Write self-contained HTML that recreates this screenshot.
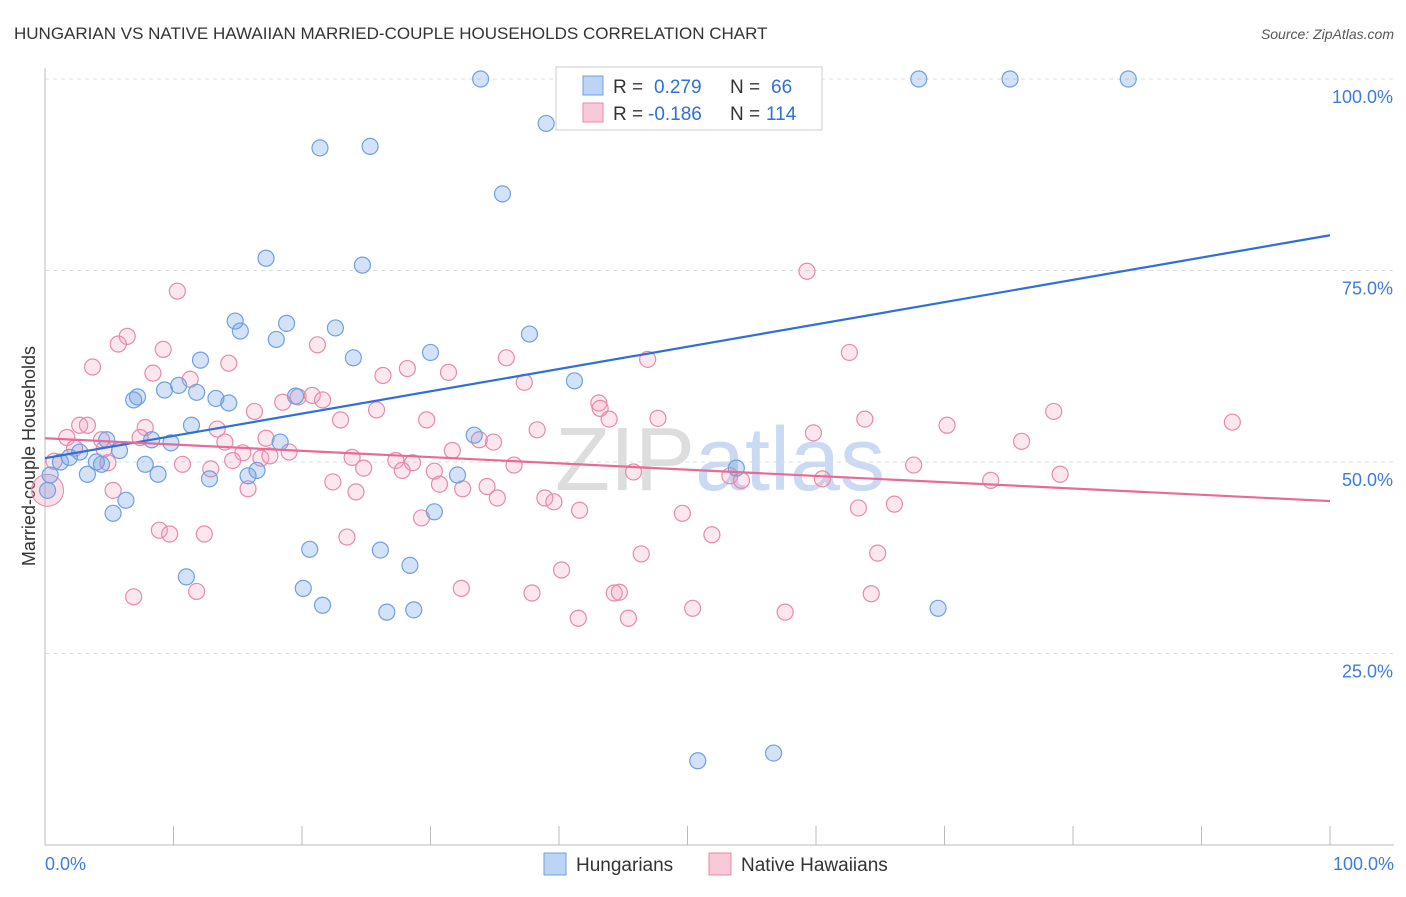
<!DOCTYPE html>
<html><head><meta charset="utf-8"><style>
body{margin:0;background:#fff;font-family:"Liberation Sans",sans-serif;}
svg text{font-family:"Liberation Sans",sans-serif;}
</style></head><body>
<svg id="c" width="1406" height="892">
<text x="14" y="39" font-size="17" fill="#333">HUNGARIAN VS NATIVE HAWAIIAN MARRIED-COUPLE HOUSEHOLDS CORRELATION CHART</text>
<text x="1394" y="39" font-size="14" fill="#555" font-style="italic" text-anchor="end">Source: ZipAtlas.com</text>
<text x="35" y="456" font-size="18" fill="#333" text-anchor="middle" transform="rotate(-90 35 456)">Married-couple Households</text>
<text x="720" y="490" font-size="90" fill="#ddd" text-anchor="middle" font-family="Liberation Serif">ZIP<tspan fill="#c9daf2" font-family="Liberation Sans">atlas</tspan></text>
<g id="grid"></g><g id="pts"></g><g id="lines"></g>
<g>
<rect x="556" y="67" width="266" height="63" fill="#fff" stroke="#ccc"/>
<rect x="583" y="76" width="20" height="19" fill="#bcd4f5" stroke="#6fa0e0"/>
<rect x="583" y="103" width="20" height="19" fill="#f9c9d8" stroke="#e88aa8"/>
<text x="613" y="93" font-size="19" fill="#333">R = <tspan fill="#2f6fd8" x="654">0.279</tspan><tspan x="730">N = </tspan><tspan fill="#2f6fd8" x="771">66</tspan></text>
<text x="613" y="120" font-size="19" fill="#333">R = <tspan fill="#2f6fd8" x="648">-0.186</tspan><tspan x="730">N = </tspan><tspan fill="#2f6fd8" x="766">114</tspan></text>
</g>
<g>
<rect x="544" y="853" width="22" height="22" fill="#bcd4f5" stroke="#6fa0e0"/>
<text x="576" y="871" font-size="19" fill="#333">Hungarians</text>
<rect x="709" y="853" width="22" height="22" fill="#f9c9d8" stroke="#e88aa8"/>
<text x="741" y="871" font-size="19" fill="#333">Native Hawaiians</text>
</g>
</svg>
<script>
const yTicks=[25,50,75,100];
const yTickLabels=["25.0%","50.0%","75.0%","100.0%"];
const xTickLabels=["0.0%","100.0%"];
const blueX=[33.9,68.0,75.1,84.3,39.0,21.4,25.3,35.6,17.2,24.7,14.8,15.2,18.8,18.0,22.6,37.7,30.0,24.0,12.1,41.2,9.3,10.4,11.8,6.9,7.2,13.3,14.3,19.5,11.4,33.4,8.3,9.8,4.8,5.8,18.3,2.7,1.9,1.2,4.0,4.4,7.8,8.8,3.3,12.8,15.8,16.5,32.1,53.8,0.4,0.2,6.3,5.3,30.3,20.6,26.1,28.4,11.0,20.1,21.6,26.6,28.7,69.5,50.8,56.7];
const blueY=[100,100,100,100,94.2,91.0,91.2,85.0,76.6,75.7,68.4,67.1,68.1,66.0,67.5,66.7,64.3,63.6,63.3,60.6,59.4,60.0,59.1,58.1,58.5,58.3,57.7,58.6,54.8,53.5,52.9,52.5,52.9,51.5,52.6,51.3,50.6,50.0,50.0,49.7,49.7,48.4,48.4,47.8,48.2,48.9,48.3,49.2,48.3,46.3,45.0,43.3,43.5,38.6,38.5,36.5,35.0,33.5,31.3,30.4,30.7,30.9,11.0,12.0];
const pinkX=[40.9,59.3,10.3,6.4,5.7,9.2,14.3,21.2,3.7,62.6,46.9,35.9,28.2,31.4,26.3,37.3,8.4,11.3,19.7,20.8,21.6,18.5,43.1,43.2,16.3,25.8,2.7,3.3,7.8,13.4,23.0,29.7,43.9,47.7,63.8,70.2,78.5,92.4,38.3,1.7,4.4,7.4,14.0,17.2,34.9,59.8,76.0,2.3,4.6,15.4,16.8,19.0,23.9,31.7,33.8,0.7,4.9,10.7,12.9,14.6,17.5,24.8,27.3,28.6,36.5,27.8,30.3,45.8,53.3,54.2,60.5,67.6,79.0,73.6,22.4,30.7,32.5,34.4,38.9,39.6,41.6,35.2,49.6,63.3,66.1,15.8,5.3,24.2,29.3,8.9,9.7,12.4,23.5,51.9,46.4,64.8,40.2,32.4,37.9,44.3,44.7,6.9,11.8,50.4,57.6,64.3,41.5,45.4];
const pinkY=[96.2,74.9,72.3,66.4,65.4,64.7,62.9,65.3,62.4,64.3,63.4,63.6,62.2,61.7,61.3,60.4,61.6,60.8,58.5,58.7,58.1,57.8,57.7,57.0,56.6,56.8,54.8,54.8,54.5,54.3,55.5,55.5,55.6,55.7,55.6,54.8,56.6,55.2,54.2,53.2,52.9,53.2,52.6,53.1,52.6,53.8,52.7,51.8,51.7,51.2,50.5,51.3,50.6,51.5,52.9,50.1,49.9,49.7,49.1,50.2,50.8,49.2,50.2,49.9,49.6,48.9,48.8,48.7,48.2,47.6,47.8,49.6,48.4,47.6,47.4,47.1,46.5,46.8,45.3,44.8,43.7,45.3,43.3,44.0,44.5,46.5,46.3,46.1,42.7,41.1,40.6,40.6,40.2,40.5,38.0,38.1,35.9,33.5,32.9,32.9,33.0,32.4,33.1,30.9,30.4,32.8,29.6,29.6];
const blueTrend=[50.5,79.6];
const pinkTrend=[53.1,44.9];
const NS="http://www.w3.org/2000/svg";
const sx=v=>45+v*12.85, sy=v=>845-v*7.66;
function mk(t,a,p){const e=document.createElementNS(NS,t);for(const k in a)e.setAttribute(k,a[k]);p.appendChild(e);return e;}
const g=document.getElementById('grid');
yTicks.forEach((t,i)=>{
 const l=mk('line',{x1:45,x2:1394,y1:sy(t),y2:sy(t),stroke:'#ddd','stroke-dasharray':'4,4'},g);
 
 
 const tx=mk('text',{x:1393,y:sy(t)+24,'font-size':18,fill:'#3d7be0','text-anchor':'end'},g);
 tx.textContent=yTickLabels[i];
 
 
});
mk('line',{x1:45,x2:45,y1:68,y2:845,stroke:'#bbb'},g);
mk('line',{x1:45,x2:1394,y1:845,y2:845,stroke:'#bbb'},g);
for(let i=0;i<=10;i++){mk('line',{x1:sx(i*10),x2:sx(i*10),y1:826,y2:845,stroke:'#bbb'},g);}
[[0,'start',45],[1,'end',1394]].forEach(([i,a,x])=>{
 const tx=mk('text',{x:x,y:870,'font-size':18,fill:'#3d7be0','text-anchor':a},g);
 tx.textContent=xTickLabels[i];
 
 
});
const p=document.getElementById('pts');
const big1=mk('circle',{cx:sx(0.2),cy:sy(46.3),r:16,fill:'rgba(240,150,180,0.3)',stroke:'#e88aa8'},p);


pinkX.forEach((x,i)=>{
 const c=mk('circle',{cx:sx(x),cy:sy(pinkY[i]),r:8,fill:'rgba(245,160,190,0.25)',stroke:'#e88aa8','stroke-width':1.2},p);
 
 
});
blueX.forEach((x,i)=>{
 const c=mk('circle',{cx:sx(x),cy:sy(blueY[i]),r:8,fill:'rgba(110,160,230,0.3)',stroke:'#6fa0e0','stroke-width':1.2},p);
 
 
});
const L=document.getElementById('lines');
const bl=mk('line',{x1:sx(0),y1:sy(blueTrend[0]),x2:sx(100),y2:sy(blueTrend[1]),stroke:'#2f6fd8','stroke-width':2.2},L);


const pl=mk('line',{x1:sx(0),y1:sy(pinkTrend[0]),x2:sx(100),y2:sy(pinkTrend[1]),stroke:'#e86a98','stroke-width':2.2},L);


</script>
</body></html>
